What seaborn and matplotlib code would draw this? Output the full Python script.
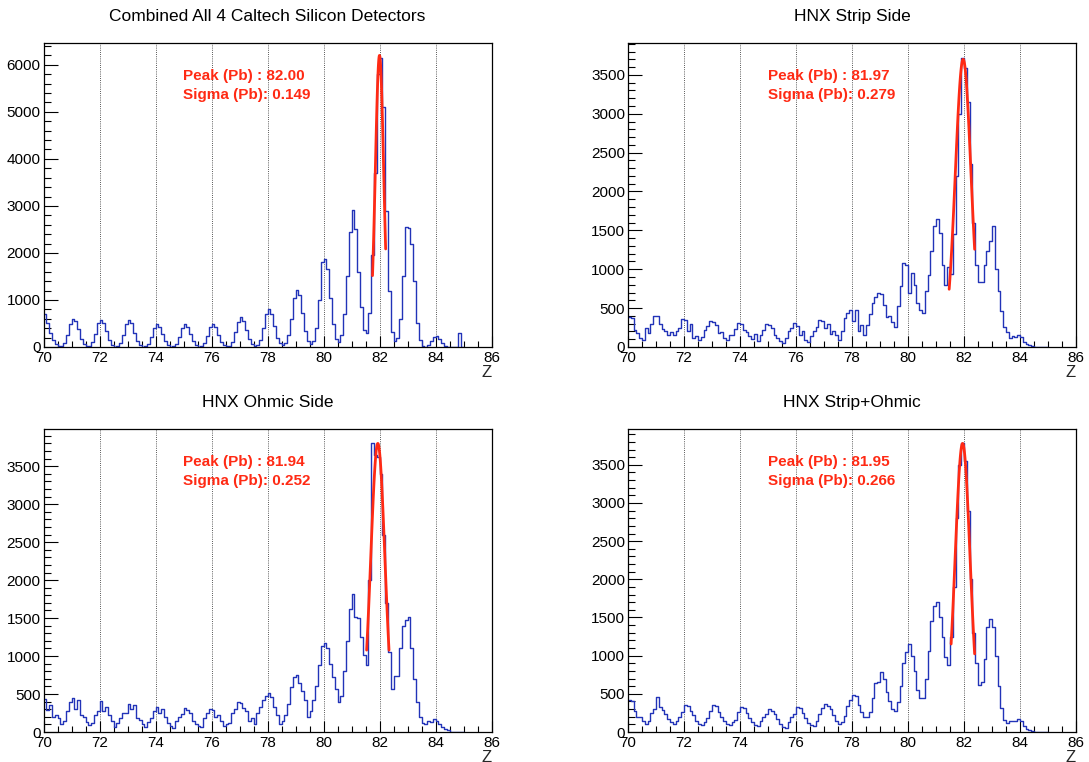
import numpy as np
import pandas as pd
import seaborn as sns
import matplotlib
matplotlib.use("Agg")
import matplotlib.pyplot as plt
from matplotlib.ticker import MultipleLocator

# ---------------- data (bin contents, 0.1 wide bins starting at Z = 70.0) ----------------
BIN_LO = 70.0
BIN_W = 0.1

TITLES = ["Combined All 4 Caltech Silicon Detectors", "HNX Strip Side",
          "HNX Ohmic Side", "HNX Strip+Ohmic"]

combined = [
    700, 520, 300, 150, 60, 20, 30, 90, 250, 480,          # 70
    600, 560, 380, 180, 60, 15, 25, 100, 270, 500,         # 71
    580, 520, 330, 150, 50, 10, 20, 90, 260, 480,          # 72
    570, 500, 300, 130, 40, 10, 15, 70, 220, 400,          # 73
    490, 430, 270, 120, 40, 10, 15, 70, 220, 400,          # 74
    490, 430, 270, 120, 40, 10, 20, 80, 240, 420,          # 75
    490, 420, 260, 110, 40, 15, 30, 110, 310, 540,         # 76
    640, 560, 360, 160, 60, 20, 40, 140, 400, 700,         # 77
    800, 700, 450, 200, 80, 40, 80, 250, 600, 1050,        # 78
    1220, 1100, 720, 330, 120, 60, 120, 400, 1000, 1810,   # 79
    1880, 1650, 1050, 480, 160, 100, 250, 700, 1500, 2450, # 80
    2910, 2500, 1600, 850, 370, 290, 720, 1950, 3700, 5800,# 81
    6150, 5100, 2900, 1200, 320, 120, 200, 600, 1500, 2550,# 82
    2540, 2200, 1400, 500, 150, 30, 10, 40, 130, 220,      # 83
    230, 180, 90, 30, 10, 0, 0, 0, 300, 0,                 # 84
]

strip = [
    390, 370, 220, 180, 120, 90, 250, 180, 290, 400,
    400, 300, 230, 210, 150, 190, 160, 200, 250, 360,
    350, 200, 290, 120, 140, 90, 130, 220, 270, 330,
    320, 280, 180, 190, 110, 90, 160, 150, 230, 310,
    300, 220, 190, 140, 100, 170, 80, 150, 220, 300,
    280, 240, 150, 120, 80, 50, 120, 200, 250, 310,
    270, 160, 210, 90, 60, 140, 200, 260, 350, 330,
    250, 290, 170, 210, 160, 90, 200, 370, 440, 470,
    330, 470, 200, 280, 150, 280, 420, 560, 640, 700,
    680, 540, 380, 400, 320, 260, 530, 780, 1080, 1060,
    700, 950, 800, 560, 480, 440, 720, 930, 1230, 1550,
    1640, 1460, 1050, 800, 1030, 940, 1450, 2200, 3000, 3720,
    3590, 3150, 2350, 1600, 1050, 840, 830, 1050, 1240, 1360,
    1560, 1000, 720, 460, 260, 190, 120, 140, 130, 150,
    130, 70, 40, 30, 10, 5, 0, 0, 0, 0,
]

ohmic = [
    430, 290, 360, 200, 230, 180, 110, 140, 280, 390,
    450, 300, 420, 230, 200, 130, 90, 120, 230, 270,
    410, 280, 330, 230, 150, 60, 120, 180, 250, 250,
    370, 300, 360, 190, 160, 110, 60, 130, 180, 270,
    330, 250, 300, 200, 120, 80, 50, 150, 200, 240,
    320, 290, 250, 150, 110, 80, 70, 180, 250, 300,
    290, 200, 230, 140, 80, 100, 120, 250, 300, 390,
    380, 320, 280, 150, 180, 110, 250, 330, 420, 480,
    520, 460, 330, 220, 110, 140, 220, 370, 590, 720,
    750, 640, 540, 420, 200, 270, 420, 600, 880, 1130,
    1170, 1100, 900, 720, 560, 400, 480, 800, 1200, 1620,
    1820, 1520, 1500, 1250, 1020, 880, 2000, 3800, 3650, 3620,
    3400, 2600, 1700, 1050, 560, 740, 740, 1100, 1400, 1480,
    1510, 1100, 700, 400, 200, 120, 110, 140, 130, 170,
    150, 110, 70, 40, 20, 5, 0, 0, 0, 0,
]

strip_ohmic = [
    420, 400, 270, 200, 190, 140, 110, 140, 250, 300,
    460, 330, 290, 240, 170, 130, 110, 150, 200, 260,
    360, 340, 280, 220, 150, 100, 90, 130, 180, 280,
    350, 340, 260, 200, 140, 100, 90, 130, 160, 260,
    330, 310, 250, 180, 130, 90, 80, 140, 190, 240,
    300, 280, 240, 170, 110, 70, 50, 130, 200, 240,
    330, 310, 250, 180, 120, 90, 80, 150, 240, 320,
    370, 340, 300, 220, 140, 100, 130, 210, 340, 420,
    490, 470, 360, 260, 190, 200, 260, 440, 640, 660,
    780, 700, 520, 400, 300, 270, 390, 600, 900, 1050,
    1150, 1000, 800, 550, 450, 440, 700, 1060, 1450, 1650,
    1700, 1500, 1250, 980, 880, 1250, 1900, 2800, 3500, 3780,
    3550, 2900, 2000, 1300, 900, 620, 660, 950, 1380, 1480,
    1380, 1000, 600, 320, 160, 120, 140, 140, 150, 170,
    140, 80, 40, 20, 10, 5, 0, 0, 0, 0,
]

SERIES = [combined, strip, ohmic, strip_ohmic]

# Gaussian fit results shown on each panel
FIT_MEAN = [82.00, 81.97, 81.94, 81.95]
FIT_SIGMA = [0.149, 0.279, 0.252, 0.266]
FIT_AMP = [6200, 3700, 3800, 3780]
FIT_LO = [81.75, 81.47, 81.54, 81.54]
FIT_HI = [82.22, 82.38, 82.34, 82.38]
PEAK_TXT = ["82.00", "81.97", "81.94", "81.95"]
SIGMA_TXT = ["0.149", "0.279", "0.252", "0.266"]

Y_MAJOR = [1000, 500, 500, 500]
Y_MINOR = [200, 100, 100, 100]

# ---------------- style ----------------
sns.set_style("ticks")
plt.rcParams["font.family"] = ["Liberation Sans", "DejaVu Sans"]
plt.rcParams.update({
    "xtick.direction": "in", "ytick.direction": "in",
    "xtick.top": False, "ytick.right": False,
    "axes.edgecolor": "black", "axes.linewidth": 0.9,
    "xtick.color": "black", "ytick.color": "black",
})

BLUE = "#2233b8"
RED = "#ff2a14"

W, H = 1089, 762
fig = plt.figure(figsize=(W / 100, H / 100), dpi=100)
fig.patch.set_facecolor("white")

# axes rectangles in pixels: (left, right, top, bottom)
RECTS = [(43.5, 491.5, 43.3, 347.0), (628.0, 1076.0, 43.3, 347.0),
         (43.5, 491.5, 429.0, 732.0), (628.0, 1076.0, 429.0, 732.0)]

for i in range(4):
    l, r, t, b = RECTS[i]
    ax = fig.add_axes([l / W, 1 - b / H, (r - l) / W, (b - t) / H])
    counts = np.array(SERIES[i], dtype=float)
    n = len(counts)
    centers = BIN_LO + BIN_W * (np.arange(n) + 0.5)
    df = pd.DataFrame({"Z": centers, "w": counts})
    sns.histplot(data=df, x="Z", weights="w", bins=n,
                 binrange=(BIN_LO, BIN_LO + BIN_W * n), element="step",
                 fill=False, color=BLUE, linewidth=1.0, ax=ax)

    # fit curve
    xs = np.linspace(FIT_LO[i], FIT_HI[i], 120)
    ys = FIT_AMP[i] * np.exp(-0.5 * ((xs - FIT_MEAN[i]) / FIT_SIGMA[i]) ** 2)
    sns.lineplot(x=xs, y=ys, color=RED, linewidth=2.0, ax=ax, sort=False)

    ax.set_xlim(70, 86)
    ax.set_ylim(0, 1.05 * counts.max())
    ax.xaxis.set_major_locator(MultipleLocator(2))
    ax.xaxis.set_minor_locator(MultipleLocator(0.5))
    ax.yaxis.set_major_locator(MultipleLocator(Y_MAJOR[i]))
    ax.yaxis.set_minor_locator(MultipleLocator(Y_MINOR[i]))
    ax.tick_params(axis="x", which="major", length=8, width=0.8, labelsize=11, pad=3)
    ax.tick_params(axis="x", which="minor", length=4, width=0.8)
    ax.tick_params(axis="y", which="major", length=10, width=0.8, labelsize=11, pad=2)
    ax.tick_params(axis="y", which="minor", length=5, width=0.8)
    ax.grid(axis="x", which="major", color="#222222", linestyle=(0, (1, 1.6)), linewidth=0.6)
    ax.set_axisbelow(True)
    ax.set_ylabel("")
    ax.set_xlabel("Z", loc="right", fontsize=12, labelpad=0)
    for s in ax.spines.values():
        s.set_visible(True)
        s.set_color("black")
        s.set_linewidth(0.9)

    ax.text(0.5, 1 + 26.5 / (b - t), TITLES[i], transform=ax.transAxes,
            ha="center", va="center", fontsize=12.5, color="black")
    ax.text(0.312, 0.892, "Peak (Pb) : " + PEAK_TXT[i], transform=ax.transAxes,
            ha="left", va="center", fontsize=11, fontweight="bold", color=RED)
    ax.text(0.312, 0.830, "Sigma (Pb): " + SIGMA_TXT[i], transform=ax.transAxes,
            ha="left", va="center", fontsize=11, fontweight="bold", color=RED)

fig.savefig("out.png", dpi=100, facecolor="white")
